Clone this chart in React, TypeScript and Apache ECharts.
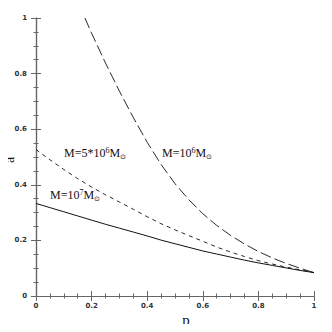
import React, { useEffect, useRef } from "react";
import * as echarts from "echarts";

const pValues = [0, 0.05, 0.1, 0.15, 0.2, 0.25, 0.3, 0.35, 0.4, 0.45, 0.5, 0.55, 0.6, 0.65, 0.7, 0.75, 0.8, 0.85, 0.9, 0.95, 1];
const aM1e7 = [0.333, 0.318, 0.303, 0.288, 0.273, 0.258, 0.244, 0.23, 0.216, 0.201, 0.188, 0.175, 0.162, 0.151, 0.14, 0.129, 0.119, 0.11, 0.101, 0.092, 0.084];
const aM5e6 = [0.527, 0.49, 0.455, 0.422, 0.392, 0.364, 0.338, 0.312, 0.285, 0.26, 0.238, 0.217, 0.197, 0.176, 0.158, 0.142, 0.127, 0.115, 0.104, 0.094, 0.084];
const pLong = [0.176, 0.2, 0.25, 0.3, 0.35, 0.4, 0.45, 0.5, 0.55, 0.6, 0.65, 0.7, 0.75, 0.8, 0.85, 0.9, 0.95, 1];
const aM1e6 = [1.0, 0.945, 0.838, 0.737, 0.642, 0.553, 0.473, 0.404, 0.346, 0.296, 0.254, 0.218, 0.187, 0.16, 0.137, 0.117, 0.1, 0.084];

const zip = (xs: number[], ys: number[]) => xs.map((x, i) => [x, ys[i]]);

export default function App() {
  const ref = useRef<HTMLDivElement>(null);
  useEffect(() => {
    if (!ref.current) return;
    const chart = echarts.init(ref.current, null, { renderer: "svg" });
    const axisColor = "#666";
    const tickLabel = { fontFamily: "DejaVu Sans", fontSize: 7, fontWeight: "bold" as const, color: "#333" };
    const baseAxis = {
      type: "value" as const,
      min: 0,
      max: 1,
      interval: 0.2,
      axisLine: { show: true, lineStyle: { color: axisColor, width: 1.2 } },
      axisTick: { show: true, inside: true, length: 5, lineStyle: { color: axisColor, width: 1 } },
      minorTick: { show: true, splitNumber: 4, length: 2.5, lineStyle: { color: axisColor, width: 1 } },
      splitLine: { show: false },
    };
    const rich = {
      n: { fontFamily: "Liberation Serif", fontSize: 12, lineHeight: 14, fill: "#111" },
      sup: { fontFamily: "Liberation Serif", fontSize: 8, lineHeight: 8, verticalAlign: "top", fill: "#111" },
      sub: { fontFamily: "DejaVu Sans", fontSize: 7, lineHeight: 7, verticalAlign: "bottom", fill: "#111" },
    };
    const lineCommon = { type: "line" as const, showSymbol: false, smooth: false };
    chart.setOption({
      animation: false,
      grid: { left: 36, top: 18, width: 278, height: 278, containLabel: false, outerBoundsMode: "none" },
      xAxis: [
        { ...baseAxis, position: "bottom", axisLabel: { ...tickLabel, margin: 6 } },
        { ...baseAxis, position: "top", axisLabel: { show: false } },
      ],
      yAxis: [
        { ...baseAxis, position: "left", axisLabel: { ...tickLabel, margin: 9 } },
        { ...baseAxis, position: "right", axisLabel: { show: false } },
      ],
      series: [
        { ...lineCommon, data: zip(pValues, aM1e7), lineStyle: { color: "#111", width: 1, type: "solid" } },
        { ...lineCommon, data: zip(pValues, aM5e6), lineStyle: { color: "#111", width: 0.9, type: [4, 4] } },
        { ...lineCommon, data: zip(pLong, aM1e6), lineStyle: { color: "#111", width: 0.9, type: [11, 4] } },
      ],
      graphic: [
        {
          type: "text",
          x: 64,
          y: 153,
          style: { text: "{n|M=5*10}{sup|6}{n|M}{sub|⊙}", rich, verticalAlign: "middle" },
        },
        {
          type: "text",
          x: 162,
          y: 153,
          style: { text: "{n|M=10}{sup|6}{n|M}{sub|⊙}", rich, verticalAlign: "middle" },
        },
        {
          type: "text",
          x: 50,
          y: 195,
          style: { text: "{n|M=10}{sup|7}{n|M}{sub|⊙}", rich, verticalAlign: "middle" },
        },
        {
          type: "text",
          x: 9,
          y: 160,
          rotation: Math.PI / 2,
          style: {
            text: "a",
            fontFamily: "Liberation Serif",
            fontSize: 14,
            fill: "#111",
            align: "center",
            verticalAlign: "middle",
          },
        },
        {
          type: "text",
          x: 186,
          y: 320,
          style: {
            text: "p",
            fontFamily: "Liberation Serif",
            fontSize: 15,
            fill: "#111",
            align: "center",
            verticalAlign: "middle",
          },
        },
      ],
    });
    return () => chart.dispose();
  }, []);
  return <div ref={ref} style={{ width: 332, height: 332, margin: -8 }} />;
}
